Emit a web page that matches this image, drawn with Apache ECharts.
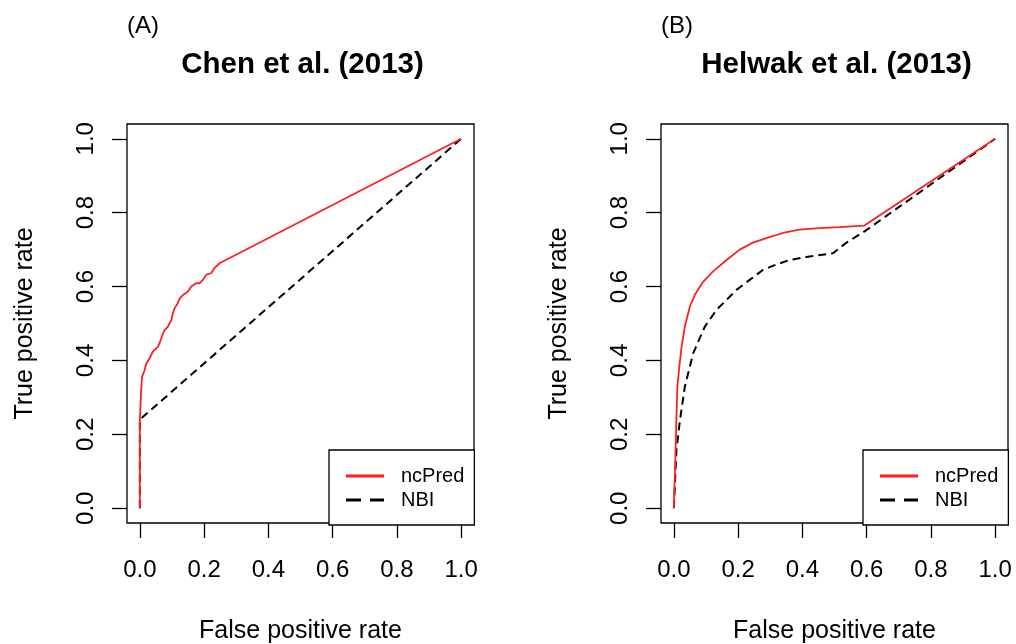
<!DOCTYPE html>
<html>
<head>
<meta charset="utf-8">
<script src="https://cdn.jsdelivr.net/npm/echarts@6/dist/echarts.min.js"></script>
<style>
html,body{margin:0;padding:0;background:#fff;}
#chart{width:1016px;height:644px;}
</style>
</head>
<body>
<div id="chart"></div>
<script>
// ---- data ----
var panelLabels = ['(A)', '(B)'];
var panelTitles = ['Chen et al. (2013)', 'Helwak et al. (2013)'];
var seriesNames = ['ncPred', 'NBI'];
var tickValues = [0, 0.2, 0.4, 0.6, 0.8, 1.0];
var xAxisTitle = 'False positive rate';
var yAxisTitle = 'True positive rate';

// Panel A (Chen et al. 2013): [FPR, TPR]
var chenNcPred = [
  [0,0],[0,0.238],[0.004,0.319],[0.007,0.356],[0.015,0.374],[0.020,0.392],
  [0.030,0.405],[0.040,0.424],[0.056,0.437],[0.061,0.446],[0.072,0.473],
  [0.077,0.482],[0.087,0.491],[0.092,0.500],[0.098,0.509],[0.103,0.528],
  [0.108,0.541],[0.118,0.555],[0.124,0.568],[0.134,0.577],[0.149,0.586],
  [0.160,0.600],[0.175,0.609],[0.186,0.609],[0.196,0.618],[0.207,0.632],
  [0.222,0.636],[0.232,0.650],[0.248,0.663],[1,1]
];
var chenNBI = [[0,0],[0,0.24],[1,1]];

// Panel B (Helwak et al. 2013): [FPR, TPR]
var helwakNcPred = [
  [0,0],[0.002,0.057],[0.004,0.111],[0.008,0.247],[0.011,0.328],[0.017,0.383],
  [0.024,0.437],[0.034,0.491],[0.050,0.546],[0.065,0.577],[0.091,0.613],
  [0.122,0.641],[0.164,0.672],[0.205,0.700],[0.246,0.719],[0.288,0.731],
  [0.339,0.745],[0.391,0.754],[0.453,0.758],[0.516,0.761],[0.593,0.765],[1,1]
];
var helwakNBI = [
  [0,0],[0.008,0.157],[0.019,0.238],[0.034,0.328],[0.060,0.419],[0.096,0.491],
  [0.133,0.537],[0.195,0.591],[0.236,0.618],[0.277,0.645],[0.308,0.656],
  [0.360,0.672],[0.412,0.680],[0.495,0.690],[0.536,0.718],[0.598,0.752],[1,1]
];

var panelData = [[chenNcPred, chenNBI], [helwakNcPred, helwakNBI]];

// ---- styles ----
var RED = '#ff1f1f';
var BLACK = '#000000';
var FONT = '"Liberation Sans", Arial, sans-serif';
var gridLefts = [127, 661];
var gridTop = 124, gridW = 347, gridH = 399;
var SOLID_ICON = 'path://M0,0h38v2.6h-38z';
var DASH_ICON = 'path://M0,0h15v2.6h-15z M24,0h14v2.6h-14z';

var chart = echarts.init(document.getElementById('chart'), null, {renderer: 'canvas'});

var grids = [], xAxes = [], yAxes = [], series = [], titles = [], legends = [];

for (var p = 0; p < 2; p++) {
  var gl = gridLefts[p];
  grids.push({left: gl, top: gridTop, width: gridW, height: gridH, show: true,
    containLabel: false, outerBoundsMode: 'none',
    borderColor: BLACK, borderWidth: 1.3, backgroundColor: 'transparent'});
  xAxes.push({
    type: 'value', gridIndex: p, min: -0.04, max: 1.04, position: 'bottom',
    splitLine: {show: false}, axisLine: {show: false, onZero: false},
    axisTick: {show: true, inside: false, length: 15, customValues: tickValues,
      lineStyle: {color: BLACK, width: 1.3}},
    axisLabel: {show: true, customValues: tickValues, margin: 35,
      color: BLACK, fontFamily: FONT, fontSize: 24,
      formatter: function (v) { return v.toFixed(1); }},
    name: xAxisTitle, nameLocation: 'middle', nameGap: 96,
    nameTextStyle: {color: BLACK, fontFamily: FONT, fontSize: 25}
  });
  yAxes.push({
    type: 'value', gridIndex: p, min: -0.04, max: 1.04, position: 'left',
    splitLine: {show: false}, axisLine: {show: false, onZero: false},
    axisTick: {show: true, inside: false, length: 15, customValues: tickValues,
      lineStyle: {color: BLACK, width: 1.3}},
    axisLabel: {show: true, customValues: tickValues, margin: 29, rotate: 90,
      color: BLACK, fontFamily: FONT, fontSize: 24,
      formatter: function (v) { return v.toFixed(1); }},
    name: yAxisTitle, nameLocation: 'middle', nameGap: 89,
    nameTextStyle: {color: BLACK, fontFamily: FONT, fontSize: 25}
  });
  series.push({
    type: 'line', name: seriesNames[0], xAxisIndex: p, yAxisIndex: p,
    data: panelData[p][0], showSymbol: false, symbol: 'none', smooth: false,
    lineStyle: {color: RED, width: 1.8}, itemStyle: {color: RED}, z: 3, silent: true
  });
  series.push({
    type: 'line', name: seriesNames[1], xAxisIndex: p, yAxisIndex: p,
    data: panelData[p][1], showSymbol: false, symbol: 'none', smooth: false,
    lineStyle: {color: BLACK, width: 2, type: [8, 5]}, itemStyle: {color: BLACK}, z: 2, silent: true
  });
  var cx = gl + gridW / 2;
  titles.push({text: panelTitles[p], left: cx - 3, top: 45, textAlign: 'center',
    textStyle: {fontFamily: FONT, fontSize: 29.5, fontWeight: 'bold', color: BLACK}});
  titles.push({text: panelLabels[p], left: gl - 5, top: 9,
    textStyle: {fontFamily: FONT, fontSize: 24, fontWeight: 'normal', color: BLACK}});
}

// legends: one per panel, R-style boxed legend
var legendLefts = [329, 863];
for (var q = 0; q < 2; q++) {
  legends.push({
    show: true, orient: 'vertical', left: legendLefts[q], top: 450,
    itemWidth: 38, itemHeight: 3, itemGap: 4, symbolKeepAspect: false,
    padding: [16, 10, 15, 17],
    borderColor: BLACK, borderWidth: 1.3, backgroundColor: '#fff',
    selectedMode: false,
    data: [
      {name: seriesNames[0], icon: SOLID_ICON, itemStyle: {color: RED, borderWidth: 0}},
      {name: seriesNames[1], icon: DASH_ICON, itemStyle: {color: BLACK, borderWidth: 0}}
    ],
    textStyle: {fontFamily: FONT, fontSize: 20, color: BLACK, lineHeight: 20, padding: [0, 0, 0, 12]}
  });
}

chart.setOption({
  animation: false,
  backgroundColor: '#ffffff',
  title: titles,
  grid: grids,
  xAxis: xAxes,
  yAxis: yAxes,
  legend: legends,
  series: series
});
</script>
</body>
</html>
